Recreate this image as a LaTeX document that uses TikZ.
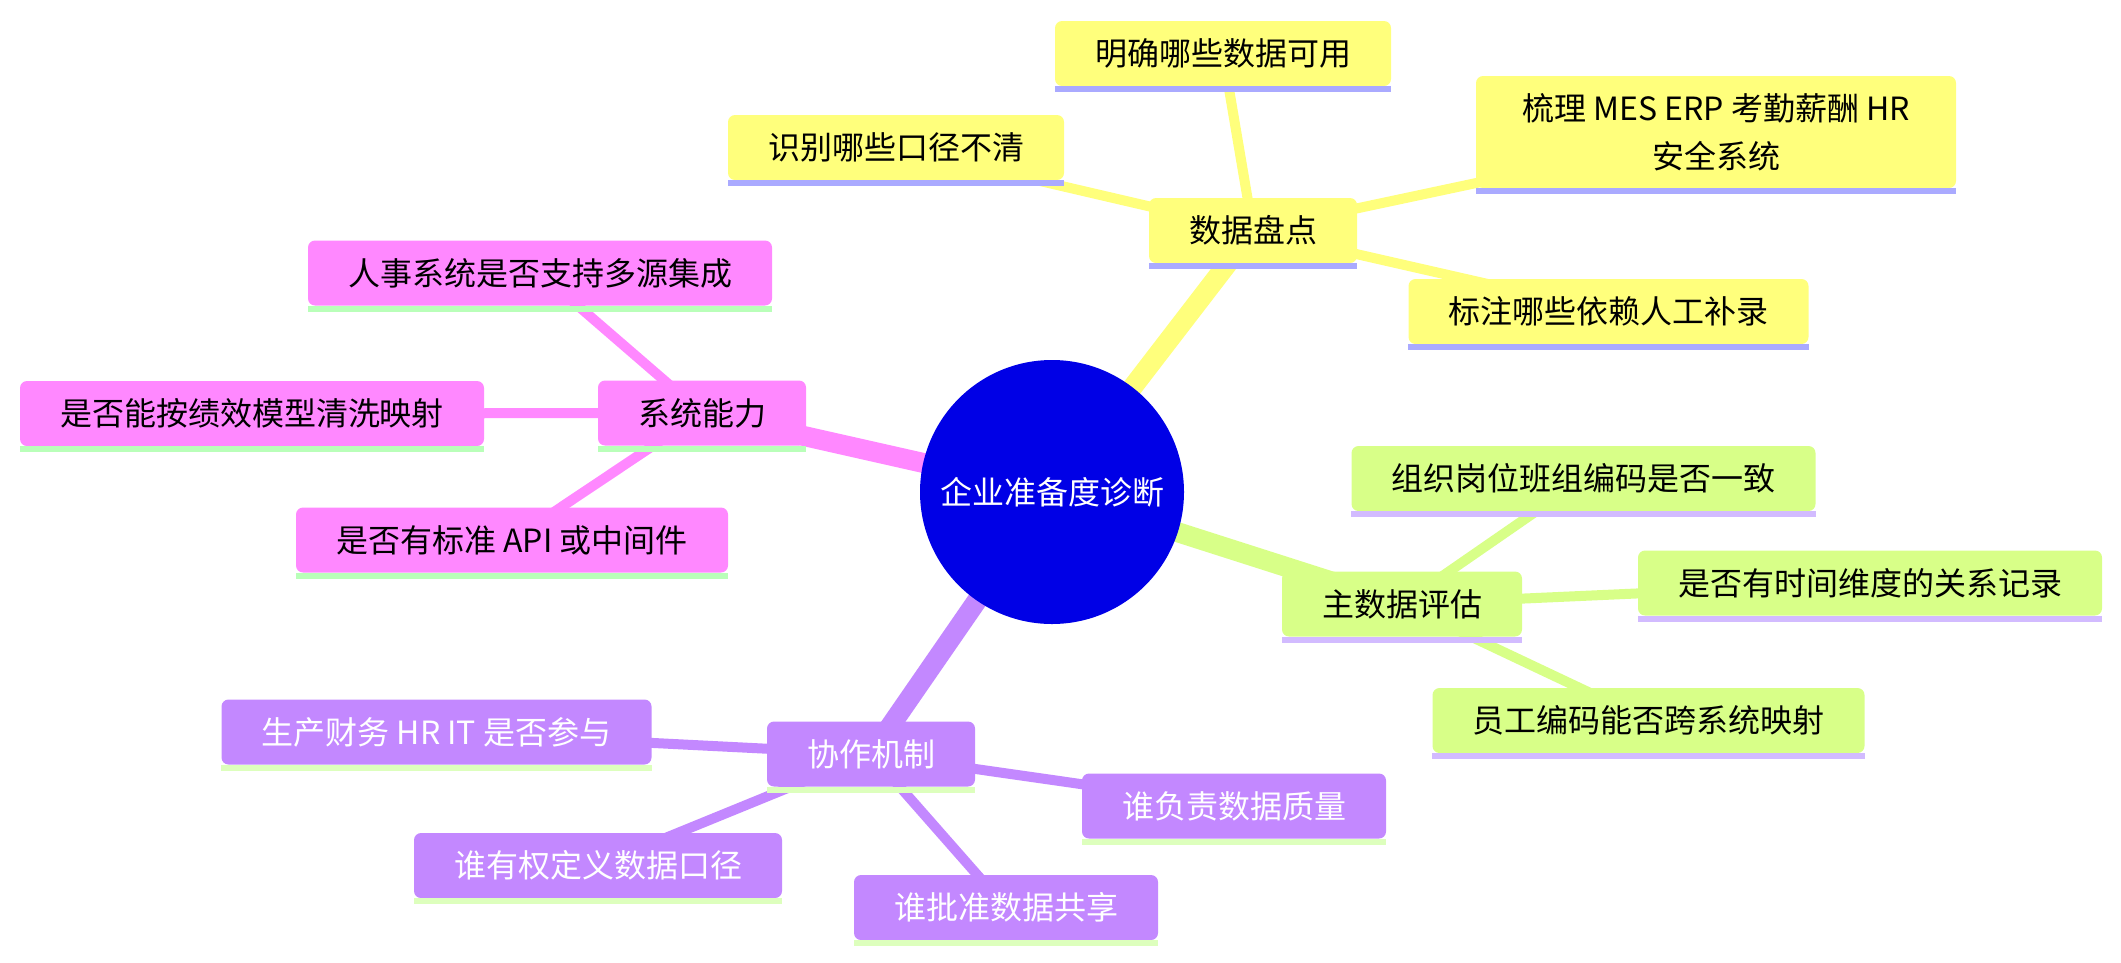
\documentclass[tikz,border=0pt]{standalone}
\usepackage{fontspec}
\setmainfont{Noto Sans CJK SC}
\usetikzlibrary{backgrounds}
\definecolor{rootC}{HTML}{0000E6}
\definecolor{secY}{HTML}{FFFF7C}
\definecolor{ulY}{HTML}{AAAAFF}
\definecolor{secG}{HTML}{D8FF88}
\definecolor{ulG}{HTML}{D2BBFF}
\definecolor{secM}{HTML}{FF88FF}
\definecolor{ulM}{HTML}{B9FFB9}
\definecolor{secP}{HTML}{C388FF}
\definecolor{ulP}{HTML}{DDFFBD}
\begin{document}
\begin{tikzpicture}[x=1pt,y=-1pt,
  box/.style={rounded corners=7pt, minimum height=65pt, inner xsep=10pt, inner ysep=0pt,
    font=\fontsize{32}{48}\selectfont, align=center, anchor=center},
  ybox/.style={box, fill=secY, text=black},
  gbox/.style={box, fill=secG, text=black},
  mbox/.style={box, fill=secM, text=black},
  pbox/.style={box, fill=secP, text=white},
  rootnode/.style={circle, fill=rootC, text=white, minimum size=264pt, inner sep=0pt,
    font=\fontsize{32}{40}\selectfont},
  mainedge/.style={line width=20pt},
  leafedge/.style={line width=10pt}
]
\useasboundingbox (0,0) rectangle (2121,962);

\node[rootnode] (root) at (1052,492) {企业准备度诊断};

% yellow section
\node[ybox, minimum width=208pt] (sj) at (1253,230.5) {数据盘点};
\node[ybox, minimum width=336pt] (y1) at (1223,53.5) {明确哪些数据可用};
\node[ybox, minimum width=336pt] (y2) at (896,147.5) {识别哪些口径不清};
\node[ybox, minimum width=480pt, minimum height=112pt] (y3) at (1716,132) {梳理 MES ERP 考勤薪酬 HR\\安全系统};
\node[ybox, minimum width=400pt] (y4) at (1608.5,311.5) {标注哪些依赖人工补录};

% green section
\node[gbox, minimum width=240pt] (zsj) at (1402,604) {主数据评估};
\node[gbox, minimum width=464pt] (g1) at (1583.5,478.5) {组织岗位班组编码是否一致};
\node[gbox, minimum width=464pt] (g2) at (1870,583) {是否有时间维度的关系记录};
\node[gbox, minimum width=432pt] (g3) at (1648.5,720.5) {员工编码能否跨系统映射};

% magenta section
\node[mbox, minimum width=208pt] (xt) at (702,413) {系统能力};
\node[mbox, minimum width=464pt] (m1) at (540,273) {人事系统是否支持多源集成};
\node[mbox, minimum width=464pt] (m2) at (252,413.5) {是否能按绩效模型清洗映射};
\node[mbox, minimum width=432pt] (m3) at (512,540) {是否有标准 API 或中间件};

% purple section
\node[pbox, minimum width=208pt] (xz) at (871,754) {协作机制};
\node[pbox, minimum width=430pt] (p1) at (436.5,732) {生产财务 HR IT 是否参与};
\node[pbox, minimum width=304pt] (p2) at (1234,806) {谁负责数据质量};
\node[pbox, minimum width=368pt] (p3) at (598,865.5) {谁有权定义数据口径};
\node[pbox, minimum width=304pt] (p4) at (1006,907.5) {谁批准数据共享};

% underlines
\foreach \n/\c in {sj/ulY,y1/ulY,y2/ulY,y3/ulY,y4/ulY,
                   zsj/ulG,g1/ulG,g2/ulG,g3/ulG,
                   xt/ulM,m1/ulM,m2/ulM,m3/ulM,
                   xz/ulP,p1/ulP,p2/ulP,p3/ulP,p4/ulP}
  \fill[\c] (\n.south west) rectangle ([yshift=-6pt]\n.south east);

\begin{scope}[on background layer]
  \draw[mainedge, secY] (root.center) -- (sj.center);
  \draw[mainedge, secG] (root.center) -- (zsj.center);
  \draw[mainedge, secM] (root.center) -- (xt.center);
  \draw[mainedge, secP] (root.center) -- (xz.center);
  \foreach \a/\b in {sj/y1,sj/y2,sj/y3,sj/y4}
    \draw[leafedge, secY] (\a.center) -- (\b.center);
  \foreach \a/\b in {zsj/g1,zsj/g2,zsj/g3}
    \draw[leafedge, secG] (\a.center) -- (\b.center);
  \foreach \a/\b in {xt/m1,xt/m2,xt/m3}
    \draw[leafedge, secM] (\a.center) -- (\b.center);
  \foreach \a/\b in {xz/p1,xz/p2,xz/p3,xz/p4}
    \draw[leafedge, secP] (\a.center) -- (\b.center);
\end{scope}
\end{tikzpicture}
\end{document}
